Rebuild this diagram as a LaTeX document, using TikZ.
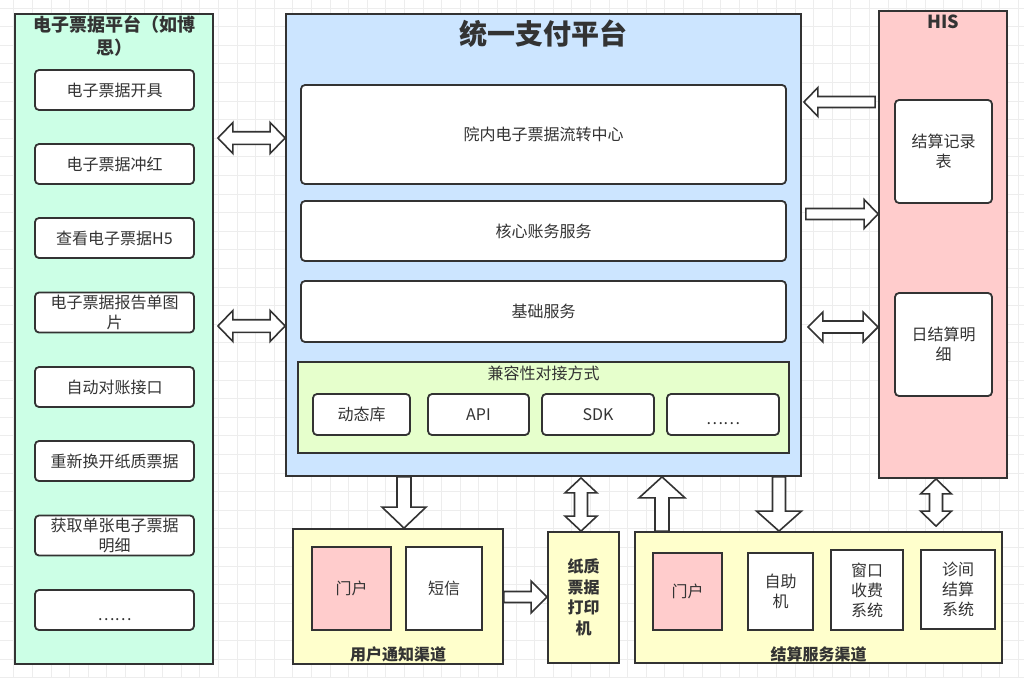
\documentclass[tikz,border=0pt]{standalone}
\usepackage{fontspec}
\setmainfont{Noto Sans CJK SC}
\usetikzlibrary{calc}
\definecolor{stk}{HTML}{333333}
\definecolor{grn}{HTML}{CCFFE6}
\definecolor{blu}{HTML}{CCE5FF}
\definecolor{pnk}{HTML}{FFCCCC}
\definecolor{lgr}{HTML}{E6FFCC}
\definecolor{yel}{HTML}{FFFFCC}
\definecolor{gridc}{HTML}{EDEDED}
\tikzset{
  base/.style={draw=stk, line width=1.8pt, text=stk, inner sep=0pt, align=center,
    font=\fontsize{16}{20}\selectfont},
  rbox/.style={base, fill=white, rounded corners=4pt},
  sbox/.style={base, fill=white},
  cont/.style={draw=stk, line width=1.8pt, inner sep=0pt},
  ttl/.style={text=stk, align=center, inner sep=0pt, font=\bfseries\fontsize{18}{23}\selectfont},
  lbl/.style={text=stk, align=center, inner sep=0pt, font=\bfseries\fontsize{16}{20.5}\selectfont},
  blk/.style={draw=stk, line width=1.6pt, fill=white, line join=miter},
  gridline/.style={draw=gridc, line width=0.8pt},
}
% point along an arrow: #1 distance along, #2 offset across (canvas pt)
\newcommand\BP[2]{({\x1+\n2*(#1)-\n3*(#2)},{\y1+\n3*(#1)+\n2*(#2)})}
% single block arrow: from, to, shaft half width, head half width, head length
\newcommand\sarrow[5]{%
  \draw[blk] let \p1=(#1), \p2=(#2), \n1={veclen(\x2-\x1,\y2-\y1)},
    \n2={(\x2-\x1)/\n1}, \n3={(\y2-\y1)/\n1} in
    \BP{0}{#3} -- \BP{\n1-#5}{#3} -- \BP{\n1-#5}{#4} -- \BP{\n1}{0}
    -- \BP{\n1-#5}{-#4} -- \BP{\n1-#5}{-#3} -- \BP{0}{-#3} -- cycle;}
% double block arrow
\newcommand\darrow[5]{%
  \draw[blk] let \p1=(#1), \p2=(#2), \n1={veclen(\x2-\x1,\y2-\y1)},
    \n2={(\x2-\x1)/\n1}, \n3={(\y2-\y1)/\n1} in
    \BP{0}{0} -- \BP{#5}{#4} -- \BP{#5}{#3} -- \BP{\n1-#5}{#3} -- \BP{\n1-#5}{#4}
    -- \BP{\n1}{0} -- \BP{\n1-#5}{-#4} -- \BP{\n1-#5}{-#3} -- \BP{#5}{-#3}
    -- \BP{#5}{-#4} -- cycle;}
\newcommand\lowdots{\raisebox{-10pt}[0pt][0pt]{……}}
\begin{document}
\begin{tikzpicture}[x=1pt,y=-1pt]
\useasboundingbox (0,0) rectangle (1024,677);
\fill[white] (0,0) rectangle (1024,677);
% grid
\foreach \i in {0,...,54} \draw[gridline] ({13.7+18.6*\i},0) -- ++(0,677);
\foreach \j in {0,...,36} \draw[gridline] (0,{8+18.6*\j}) -- ++(1024,0);

% ---------------- left: e-invoice platform
\node[cont, fill=grn, minimum width=198, minimum height=650] (L) at (114,339) {};
\node[ttl] (Lt) at (114,36) {电子票据平台（如博\\思）};
\node[rbox, minimum width=159, minimum height=40] (L1) at (114.5,90) {电子票据开具};
\node[rbox, minimum width=159, minimum height=40] (L2) at (114.5,164) {电子票据冲红};
\node[rbox, minimum width=159, minimum height=40] (L3) at (114.5,238) {查看电子票据H5};
\node[rbox, minimum width=159, minimum height=40] (L4) at (114.5,312.5) {电子票据报告单图\\片};
\node[rbox, minimum width=159, minimum height=40] (L5) at (114.5,387) {自动对账接口};
\node[rbox, minimum width=159, minimum height=40] (L6) at (114.5,461) {重新换开纸质票据};
\node[rbox, minimum width=159, minimum height=40] (L7) at (114.5,535.5) {获取单张电子票据\\明细};
\node[rbox, minimum width=159, minimum height=40] (L8) at (114.5,610) {\lowdots};

% ---------------- centre: unified payment platform
\node[cont, fill=blu, minimum width=515, minimum height=462] (B) at (543.5,245) {};
\node[text=stk, inner sep=0pt, font=\bfseries\fontsize{28}{32}\selectfont] (Bt) at (543.5,34) {统一支付平台};
\node[rbox, minimum width=485, minimum height=99] (B1) at (543.5,134.5) {院内电子票据流转中心};
\node[rbox, minimum width=485, minimum height=60] (B2) at (543.5,231) {核心账务服务};
\node[rbox, minimum width=485, minimum height=61] (B3) at (543.5,311.5) {基础服务};
\node[cont, fill=lgr, minimum width=491, minimum height=91] (C) at (543.5,407.5) {};
\node[text=stk, inner sep=0pt, font=\fontsize{16}{20}\selectfont] (Ct) at (543.5,373) {兼容性对接方式};
\node[rbox, minimum width=97, minimum height=41] (C1) at (361.5,414.5) {动态库};
\node[rbox, minimum width=101, minimum height=41] (C2) at (478.5,414.5) {API};
\node[rbox, minimum width=112, minimum height=41] (C3) at (598,414.5) {SDK};
\node[rbox, minimum width=112, minimum height=41] (C4) at (723,414.5) {\lowdots};

% ---------------- right: HIS
\node[cont, fill=pnk, minimum width=128, minimum height=467] (H) at (943,244.5) {};
\node[ttl] (Ht) at (943,22) {HIS};
\node[rbox, minimum width=97, minimum height=103] (H1) at (943.5,151.5) {结算记录\\表};
\node[rbox, minimum width=97, minimum height=103] (H2) at (943.5,344.5) {日结算明\\细};

% ---------------- bottom: user notification channels
\node[cont, fill=yel, minimum width=210, minimum height=135] (U) at (398,596.5) {};
\node[base, fill=pnk, minimum width=79, minimum height=83] (U1) at (351.5,588.5) {门户};
\node[sbox, minimum width=76, minimum height=83] (U2) at (444,588.5) {短信};
\node[lbl] (Ul) at (398,654) {用户通知渠道};

% ---------------- bottom: paper invoice printer
\node[cont, fill=yel, minimum width=71, minimum height=131] (P) at (583.5,597.5) {};
\node[lbl] (Pt) at (583.5,597.5) {纸质\\票据\\打印\\机};

% ---------------- bottom: settlement service channels
\node[cont, fill=yel, minimum width=367, minimum height=131] (S) at (818.5,597.5) {};
\node[base, fill=pnk, minimum width=69, minimum height=77] (S1) at (687.5,591.5) {门户};
\node[sbox, minimum width=65, minimum height=77] (S2) at (780.5,591.5) {自助\\机};
\node[sbox, minimum width=72, minimum height=80] (S3) at (867,590) {窗口\\收费\\系统};
\node[sbox, minimum width=74, minimum height=79] (S4) at (958,589.5) {诊间\\结算\\系统};
\node[lbl] (Sl) at (818.5,654) {结算服务渠道};

% ---------------- block arrows
% HIS -> platform (left pointing) and platform -> HIS
\sarrow{$(H.west |- 0,102)+(-3,0)$}{$(B.east |- 0,102)+(2,0)$}{5.5}{14.5}{14}
\sarrow{$(B.east |- 0,214)+(4,0)$}{$(H.west |- 0,214)$}{5.5}{14.5}{14}
% e-invoice platform <-> payment platform
\darrow{$(L.east |- 0,138)+(4,0)$}{$(B.west |- 0,138)$}{6.3}{15.5}{15}
\darrow{$(L.east |- 0,326)+(4,0)$}{$(B.west |- 0,326)$}{6.3}{15.5}{15}
% payment platform <-> HIS
\darrow{$(B.east |- 0,327)+(6,0)$}{$(H.west |- 0,327)$}{6}{15}{15}
% platform -> user notification
\sarrow{$(B.south -| 404,0)$}{$(U.north -| 404,0)$}{7}{22}{21}
% platform <-> printer
\darrow{$(B.south -| 581,0)+(0,1)$}{$(P.north -| 581,0)$}{6.5}{16}{15}
% user notification -> printer
\sarrow{$(U.east |- 0,597)$}{$(P.west |- 0,597)$}{5.5}{16}{16}
% settlement channels -> platform
\sarrow{$(S.north -| 662,0)$}{$(B.south -| 662,0)$}{7}{23}{21}
% platform -> settlement channels
\sarrow{$(B.south -| 779,0)$}{$(S.north -| 779,0)$}{6.5}{22.5}{20}
% HIS <-> settlement channels
\darrow{$(H.south -| 936,0)$}{$(S.north -| 936,0)+(0,-5)$}{6.5}{15.5}{15}
\end{tikzpicture}
\end{document}
